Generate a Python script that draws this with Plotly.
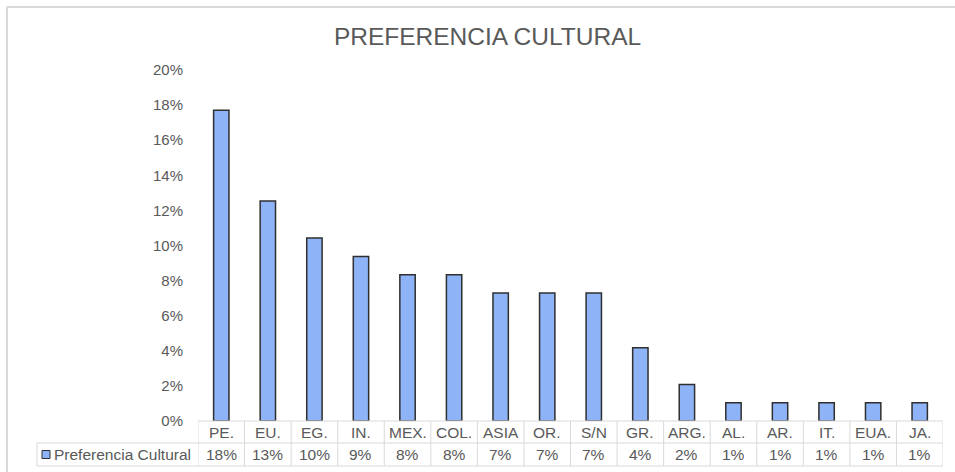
import plotly.graph_objects as go

categories = ["PE.", "EU.", "EG.", "IN.", "MEX.", "COL.", "ASIA", "OR.", "S/N",
              "GR.", "ARG.", "AL.", "AR.", "IT.", "EUA.", "JA."]
values = [0.1771, 0.1254, 0.1043, 0.0938, 0.0833, 0.0833, 0.0729, 0.0729, 0.0729,
          0.0417, 0.0208, 0.0104, 0.0104, 0.0104, 0.0104, 0.0104]
series_name = "Preferencia Cultural"
title_text = "PREFERENCIA CULTURAL"
y_ticks = [0, 0.02, 0.04, 0.06, 0.08, 0.10, 0.12, 0.14, 0.16, 0.18, 0.20]

W, H = 955, 472
ML, MR, MT, MB = 198, 12, 70, 51
PW, PH = W - ML - MR, H - MT - MB
FONT = "Liberation Sans, Arial, sans-serif"
TXT = "#595959"
GRID = "#D9D9D9"
BAR = "#8EB4F7"
EDGE = "#2F2F2F"


def px_x(p):
    return (p - ML) / PW


def px_y(p):
    return (H - MB - p) / PH


fig = go.Figure()
fig.add_trace(go.Bar(
    x=categories, y=values, name=series_name, width=0.33,
    marker=dict(color=BAR, line=dict(color=EDGE, width=1.5)),
    showlegend=False, hoverinfo="x+y",
))

n = len(categories)
row1_top, row1_bot, row2_bot = 421, 443, 466
legend_left = 37

shapes = []
for i in range(n + 1):
    shapes.append(dict(type="line", xref="x", yref="paper",
                       x0=i - 0.5, x1=i - 0.5, y0=px_y(row1_top), y1=px_y(row2_bot),
                       line=dict(color=GRID, width=1)))
shapes.append(dict(type="line", xref="x", yref="paper", x0=-0.5, x1=n - 0.5,
                   y0=px_y(row1_top), y1=px_y(row1_top), line=dict(color=GRID, width=1)))
for yy in (row1_bot, row2_bot):
    shapes.append(dict(type="line", xref="paper", yref="paper",
                       x0=px_x(legend_left), x1=px_x(ML + PW),
                       y0=px_y(yy), y1=px_y(yy), line=dict(color=GRID, width=1)))
shapes.append(dict(type="line", xref="paper", yref="paper",
                   x0=px_x(legend_left), x1=px_x(legend_left),
                   y0=px_y(row1_bot), y1=px_y(row2_bot), line=dict(color=GRID, width=1)))
shapes.append(dict(type="rect", xref="paper", yref="paper",
                   x0=px_x(42), x1=px_x(50), y0=px_y(450.5), y1=px_y(458.5),
                   fillcolor=BAR, line=dict(color=EDGE, width=1)))
shapes.append(dict(type="line", xref="paper", yref="paper",
                   x0=px_x(7), x1=px_x(W + 5), y0=px_y(7), y1=px_y(7),
                   line=dict(color="#D9D9D9", width=2)))
shapes.append(dict(type="line", xref="paper", yref="paper",
                   x0=px_x(7), x1=px_x(7), y0=px_y(7), y1=px_y(H + 5),
                   line=dict(color="#D9D9D9", width=2)))

annotations = []
for c, v in zip(categories, values):
    annotations.append(dict(x=c, xref="x", y=px_y((row1_top + row1_bot) / 2), yref="paper",
                            text=c, showarrow=False, xanchor="center", yanchor="middle",
                            font=dict(family=FONT, size=15.5, color=TXT)))
    annotations.append(dict(x=c, xref="x", y=px_y((row1_bot + row2_bot) / 2), yref="paper",
                            text=f"{v:.0%}", showarrow=False, xanchor="center", yanchor="middle",
                            font=dict(family=FONT, size=15.5, color=TXT)))
annotations.append(dict(x=px_x(52), xref="paper", y=px_y((row1_bot + row2_bot) / 2), yref="paper",
                        text=series_name, showarrow=False, xanchor="left", yanchor="middle",
                        font=dict(family=FONT, size=15.5, color=TXT)))

fig.update_layout(
    width=W, height=H,
    margin=dict(l=ML, r=MR, t=MT, b=MB, pad=0),
    paper_bgcolor="white", plot_bgcolor="white",
    title=dict(text=title_text, x=487.5 / W, xref="container", xanchor="center",
               y=1 - 36 / H, yref="container", yanchor="middle",
               font=dict(family=FONT, size=24.5, color=TXT)),
    xaxis=dict(type="category", range=[-0.5, n - 0.5], showticklabels=False,
               showgrid=False, zeroline=False, showline=False, ticks=""),
    yaxis=dict(range=[0, 0.2], tickvals=y_ticks, tickformat=".0%",
               showgrid=False, zeroline=False, showline=False, ticks="",
               ticklabelstandoff=14,
               tickfont=dict(family=FONT, size=15, color=TXT)),
    shapes=shapes, annotations=annotations,
    bargap=0.67,
)

fig.write_html("out.html")
